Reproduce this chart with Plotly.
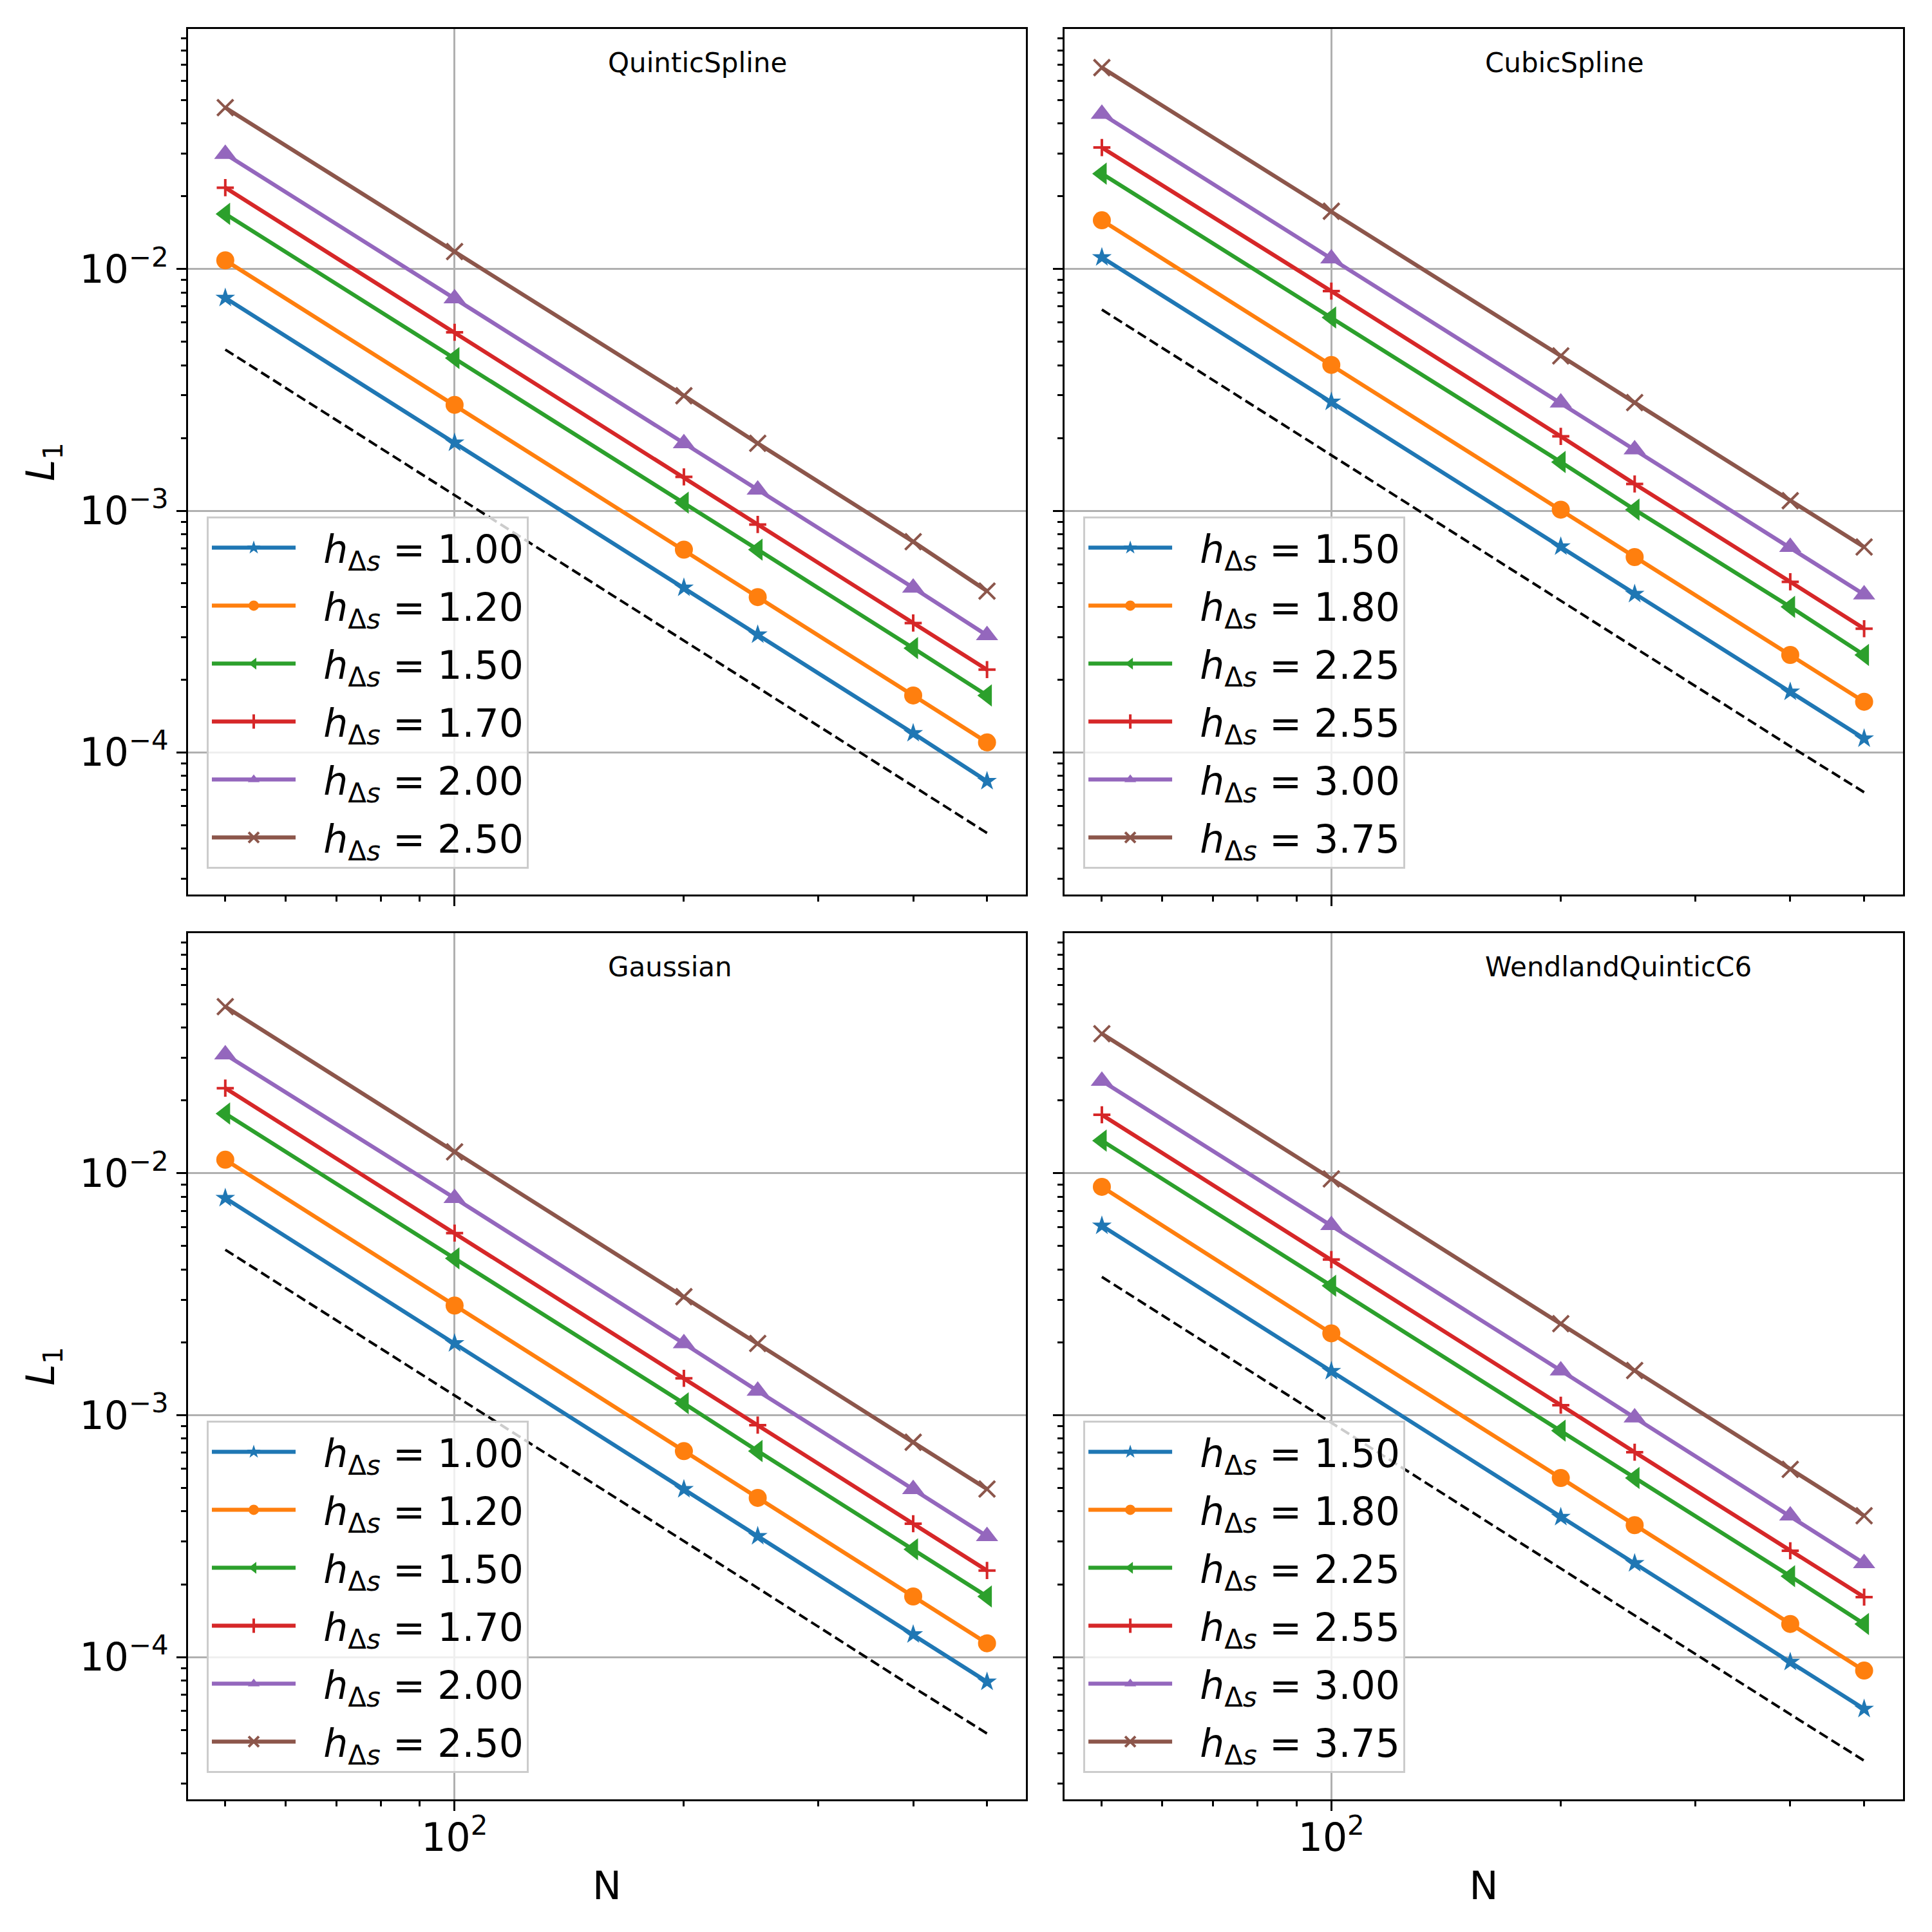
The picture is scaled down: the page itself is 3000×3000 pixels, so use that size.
import plotly.graph_objects as go
from plotly.subplots import make_subplots

# number of particles
N = [50, 100, 200, 250, 400, 500]

# QuinticSpline
quintic_h = ["1.00", "1.20", "1.50", "1.70", "2.00", "2.50"]
quintic_l1 = [
    [7.59e-3, 1.91e-3, 4.80e-4, 3.07e-4, 1.20e-4, 7.6e-5],
    [1.086e-2, 2.74e-3, 6.90e-4, 4.39e-4, 1.72e-4, 1.10e-4],
    [1.69e-2, 4.28e-3, 1.08e-3, 6.90e-4, 2.70e-4, 1.72e-4],
    [2.17e-2, 5.47e-3, 1.38e-3, 8.77e-4, 3.43e-4, 2.20e-4],
    [2.99e-2, 7.55e-3, 1.90e-3, 1.22e-3, 4.80e-4, 3.05e-4],
    [4.65e-2, 1.18e-2, 2.99e-3, 1.90e-3, 7.44e-4, 4.65e-4],
]
quintic_ref = [4.64e-3, 1.16e-3, 2.90e-4, 1.86e-4, 7.3e-5, 4.64e-5]

# CubicSpline
cubic_h = ["1.50", "1.80", "2.25", "2.55", "3.00", "3.75"]
cubic_l1 = [
    [1.117e-2, 2.82e-3, 7.10e-4, 4.52e-4, 1.78e-4, 1.14e-4],
    [1.59e-2, 4.01e-3, 1.01e-3, 6.43e-4, 2.53e-4, 1.62e-4],
    [2.48e-2, 6.30e-3, 1.59e-3, 1.01e-3, 4.00e-4, 2.53e-4],
    [3.18e-2, 8.10e-3, 2.03e-3, 1.29e-3, 5.08e-4, 3.25e-4],
    [4.38e-2, 1.105e-2, 2.80e-3, 1.79e-3, 7.07e-4, 4.50e-4],
    [6.81e-2, 1.734e-2, 4.37e-3, 2.80e-3, 1.10e-3, 7.08e-4],
]
cubic_ref = [6.79e-3, 1.70e-3, 4.25e-4, 2.72e-4, 1.06e-4, 6.84e-5]

# Gaussian
gauss_h = ["1.00", "1.20", "1.50", "1.70", "2.00", "2.50"]
gauss_l1 = [
    [7.90e-3, 1.98e-3, 4.94e-4, 3.16e-4, 1.24e-4, 7.9e-5],
    [1.138e-2, 2.84e-3, 7.10e-4, 4.55e-4, 1.78e-4, 1.14e-4],
    [1.766e-2, 4.45e-3, 1.12e-3, 7.11e-4, 2.79e-4, 1.78e-4],
    [2.25e-2, 5.66e-3, 1.42e-3, 9.10e-4, 3.56e-4, 2.28e-4],
    [3.10e-2, 7.90e-3, 1.98e-3, 1.26e-3, 4.94e-4, 3.16e-4],
    [4.89e-2, 1.227e-2, 3.09e-3, 1.98e-3, 7.73e-4, 4.95e-4],
]
gauss_ref = [4.83e-3, 1.21e-3, 3.02e-4, 1.93e-4, 7.5e-5, 4.83e-5]

# WendlandQuinticC6
wendland_h = ["1.50", "1.80", "2.25", "2.55", "3.00", "3.75"]
wendland_l1 = [
    [6.07e-3, 1.52e-3, 3.79e-4, 2.44e-4, 9.54e-5, 6.1e-5],
    [8.79e-3, 2.18e-3, 5.50e-4, 3.51e-4, 1.37e-4, 8.79e-5],
    [1.365e-2, 3.43e-3, 8.63e-4, 5.50e-4, 2.16e-4, 1.37e-4],
    [1.746e-2, 4.40e-3, 1.10e-3, 7.03e-4, 2.75e-4, 1.77e-4],
    [2.41e-2, 6.10e-3, 1.53e-3, 9.77e-4, 3.84e-4, 2.44e-4],
    [3.78e-2, 9.48e-3, 2.39e-3, 1.53e-3, 5.97e-4, 3.84e-4],
]
wendland_ref = [3.73e-3, 9.3e-4, 2.33e-4, 1.49e-4, 5.8e-5, 3.73e-5]

colors = ["#1f77b4", "#ff7f0e", "#2ca02c", "#d62728", "#9467bd", "#8c564b"]
symbols = ["star", "circle", "triangle-left", "cross-thin", "triangle-up", "x-thin"]
sizes = [23, 28, 30, 19, 30, 25]

FONT = "DejaVu Sans"

panels = [
    ("QuinticSpline", quintic_h, quintic_l1, quintic_ref, 1, 1),
    ("CubicSpline", cubic_h, cubic_l1, cubic_ref, 1, 2),
    ("Gaussian", gauss_h, gauss_l1, gauss_ref, 2, 1),
    ("WendlandQuinticC6", wendland_h, wendland_l1, wendland_ref, 2, 2),
]

fig = make_subplots(rows=2, cols=2)

legend_names = ["legend", "legend2", "legend3", "legend4"]
legend_pos = [(0.107, 0.7327), (0.5607, 0.7327), (0.107, 0.2647), (0.5607, 0.2647)]

for k, (name, hs, l1, ref, row, col) in enumerate(panels):
    fig.add_trace(go.Scatter(x=N, y=ref, mode="lines",
                             line=dict(color="black", width=4, dash="15px,7px"),
                             showlegend=False), row=row, col=col)
    for i in range(6):
        thin = symbols[i].endswith("thin")
        fig.add_trace(go.Scatter(
            x=N, y=l1[i], mode="lines+markers",
            name="\u00a0\u00a0<i>h</i><sub>Δ<i>s</i></sub> = " + hs[i],
            line=dict(color=colors[i], width=6.25),
            marker=dict(symbol=symbols[i], size=sizes[i], color=colors[i],
                        line=dict(color=colors[i], width=4 if thin else 0)),
            legend=legend_names[k], legendgroup="p%d_%d" % (k, i)), row=row, col=col)
    axn = "" if k == 0 else str(k + 1)
    fig.add_annotation(text=name, xref="x" + axn + " domain", yref="y" + axn + " domain",
                       x=0.5, y=0.961, xanchor="left", yanchor="middle", showarrow=False,
                       font=dict(family=FONT, size=42, color="black"))

# minor tick positions
y_minor = []
for e in [1e-5, 1e-4, 1e-3, 1e-2]:
    for m in range(2, 10):
        y_minor.append(m * e)
x_minor = [50, 60, 70, 80, 90, 200, 300, 400, 500]

fig.update_xaxes(type="log", range=[1.650, 2.750], automargin=False,
                 tickvals=[100], ticktext=["10<sup>2</sup>"], ticklabelstandoff=-10,
                 ticks="outside", ticklen=15, tickwidth=3.3, tickcolor="black",
                 showline=True, linecolor="black", linewidth=3.3, mirror=True,
                 showgrid=True, gridcolor="#b0b0b0", gridwidth=3.3, zeroline=False,
                 minor=dict(tickvals=x_minor, ticks="outside", ticklen=8, tickwidth=2.5,
                            tickcolor="black", showgrid=False),
                 tickfont=dict(family=FONT, size=60, color="black"))
fig.update_yaxes(type="log", range=[-4.588, -1.007], automargin=False,
                 tickvals=[1e-4, 1e-3, 1e-2],
                 ticktext=["10<sup>−4</sup>", "10<sup>−3</sup>", "10<sup>−2</sup>"],
                 ticks="outside", ticklen=15, tickwidth=3.3, tickcolor="black",
                 showline=True, linecolor="black", linewidth=3.3, mirror=True,
                 showgrid=True, gridcolor="#b0b0b0", gridwidth=3.3, zeroline=False,
                 minor=dict(tickvals=y_minor, ticks="outside", ticklen=8, tickwidth=2.5,
                            tickcolor="black", showgrid=False),
                 tickfont=dict(family=FONT, size=60, color="black"))

# shared axes: hide inner tick labels
fig.update_xaxes(showticklabels=False, row=1)
fig.update_yaxes(showticklabels=False, col=2)
fig.update_xaxes(title_text="N", title_font=dict(family=FONT, size=60, color="black"),
                 title_standoff=20, row=2)
fig.update_yaxes(title_text="<i>L</i><sub>1</sub>", title_font=dict(family=FONT, size=60, color="black"),
                 title_standoff=20, col=1)

# panel positions
fig.update_layout(
    xaxis=dict(domain=[0.0973, 0.531]), xaxis2=dict(domain=[0.551, 0.985]),
    xaxis3=dict(domain=[0.0973, 0.531]), xaxis4=dict(domain=[0.551, 0.985]),
    yaxis=dict(domain=[0.537, 0.985]), yaxis2=dict(domain=[0.537, 0.985]),
    yaxis3=dict(domain=[0.0687, 0.517]), yaxis4=dict(domain=[0.0687, 0.517]),
)

for k, ln in enumerate(legend_names):
    fig.update_layout({ln: dict(x=legend_pos[k][0], y=legend_pos[k][1],
                                xanchor="left", yanchor="top",
                                bgcolor="rgba(255,255,255,0.8)", bordercolor="#cccccc",
                                borderwidth=3, itemwidth=130, tracegroupgap=9,
                                font=dict(family=FONT, size=60, color="black"))})

fig.update_layout(width=3000, height=3000, autosize=False,
                  margin=dict(l=0, r=0, t=0, b=0),
                  plot_bgcolor="white", paper_bgcolor="white",
                  font=dict(family=FONT, color="black"))

fig.write_html("out.html", config={"displayModeBar": False},
               post_script="document.body.style.margin='0';")
